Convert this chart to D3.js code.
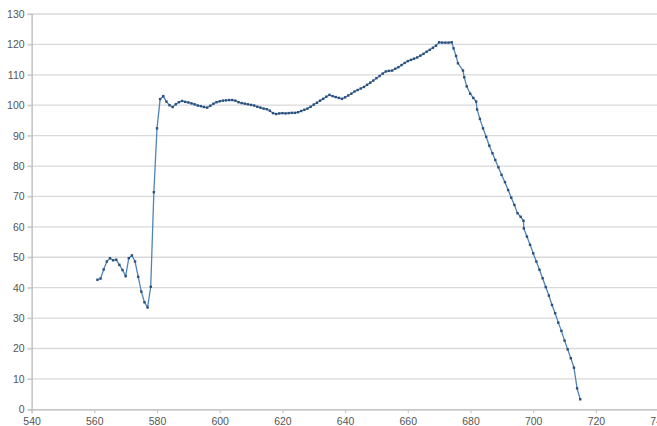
<!DOCTYPE html>
<html>
<head>
<meta charset="utf-8">
<script src="https://cdn.jsdelivr.net/npm/d3@7"></script>
<style>
  html, body { margin: 0; padding: 0; background: #fff; overflow: hidden; }
  text { font-family: "Liberation Sans", Arial, sans-serif; }
</style>
</head>
<body>
<div id="chart"></div>
<script>
// Values
const xValues = [
  561, 562, 563, 564, 565, 566, 567, 568, 569, 570,
  571, 572, 573, 574, 575, 576, 577, 578, 579, 580,
  581, 582, 583, 584, 585, 586, 587, 588, 589, 590,
  591, 592, 593, 594, 595, 596, 597, 598, 599, 600,
  601, 602, 603, 604, 605, 606, 607, 608, 609, 610,
  611, 612, 613, 614, 615, 616, 617, 618, 619, 620,
  621, 622, 623, 624, 625, 626, 627, 628, 629, 630,
  631, 632, 633, 634, 635, 636, 637, 638, 639, 640,
  641, 642, 643, 644, 645, 646, 647, 648, 649, 650,
  651, 652, 653, 654, 655, 656, 657, 658, 659, 660,
  661, 662, 663, 664, 665, 666, 667, 668, 669, 670,
  671, 672, 673, 674, 674.6, 675.4, 676, 677.6, 678, 678.8,
  679.9, 680.9, 681.8, 682.1, 683, 684, 685, 686, 687, 687.9,
  688.9, 689.9, 691, 692, 693, 694, 695, 696, 696.9, 697,
  698, 699, 700, 701, 702, 703, 704, 705, 706, 707,
  708, 709, 710, 711, 712, 713, 714, 715
];
const yValues = [
  42.6, 43, 46, 48.6, 49.7, 49, 49.2, 47.5, 45.8, 43.8,
  49.7, 50.6, 48.6, 43.6, 38.7, 35.2, 33.5, 40.3, 71.4, 92.4,
  102, 103, 101.2, 100, 99.4, 100.3, 101, 101.4, 101.1, 100.9,
  100.6, 100.3, 99.9, 99.7, 99.4, 99.2, 99.8, 100.5, 101, 101.3,
  101.5, 101.6, 101.7, 101.7, 101.5, 101, 100.7, 100.5, 100.3, 100.1,
  99.9, 99.5, 99.2, 98.9, 98.7, 98.2, 97.4, 97.1, 97.3, 97.4,
  97.3, 97.4, 97.5, 97.5, 97.7, 98.1, 98.5, 98.9, 99.5, 100.2,
  100.8, 101.5, 102.1, 102.8, 103.4, 103, 102.7, 102.4, 102.1, 102.6,
  103.2, 103.8, 104.5, 105, 105.5, 106, 106.7, 107.4, 108.1, 108.9,
  109.6, 110.4, 111.1, 111.3, 111.4, 112, 112.5, 113.2, 113.9, 114.5,
  114.9, 115.3, 115.7, 116.3, 116.9, 117.6, 118.2, 118.9, 119.6, 120.7,
  120.6, 120.6, 120.6, 120.7, 118.7, 116.2, 113.8, 111.4, 109.2, 106.2,
  103.8, 102.4, 101.2, 98.6, 95.5, 92.4, 89.6, 86.7, 84.2, 82,
  79.6, 77.1, 74.7, 72.1, 69.6, 67.2, 64.5, 63.3, 62, 59.5,
  56.8, 54.1, 51.3, 48.6, 45.9, 43.1, 40.2, 37.4, 34.3, 31.6,
  28.5, 25.8, 22.6, 19.7, 16.8, 13.7, 6.9, 3.3
];
const xTicks = [540, 560, 580, 600, 620, 640, 660, 680, 700, 720, 740];
const yTicks = [0, 10, 20, 30, 40, 50, 60, 70, 80, 90, 100, 110, 120, 130];

const data = xValues.map((x, i) => ({ x: x, y: yValues[i] }));

const width = 657;
const height = 426;

const svg = d3.select('#chart')
  .append('svg')
  .attr('width', width)
  .attr('height', height);

const xScale = d3.scaleLinear()
  .domain([540, 740])
  .range([31.6, 658.6]);

const yScale = d3.scaleLinear()
  .domain([0, 130])
  .range([409.3, 14]);

// Horizontal grid lines
svg.append('g')
  .selectAll('line')
  .data(yTicks.filter(d => d > 0))
  .enter()
  .append('line')
  .attr('x1', xScale(540) - 4)
  .attr('x2', width)
  .attr('y1', d => yScale(d))
  .attr('y2', d => yScale(d))
  .attr('stroke', '#d9d9d9')
  .attr('stroke-width', 1.3);

// Y axis
const yAxis = svg.append('g')
  .attr('transform', `translate(${xScale(540)}, 0)`)
  .call(d3.axisLeft(yScale).tickValues(yTicks).tickSize(4).tickPadding(3));

// X axis
const xAxis = svg.append('g')
  .attr('transform', `translate(0, ${yScale(0)})`)
  .call(d3.axisBottom(xScale).tickValues(xTicks).tickSize(4).tickPadding(4));

[yAxis, xAxis].forEach(ax => {
  ax.select('.domain').attr('stroke', '#b3b3b3').attr('stroke-width', 1.2);
  ax.selectAll('.tick line').attr('stroke', '#c8c8c8').attr('stroke-width', 1.2);
  ax.selectAll('.tick text')
    .attr('fill', '#555')
    .attr('font-size', '10.5px')
    .attr('font-family', '"Liberation Sans", Arial, sans-serif');
});

// Series line
const line = d3.line()
  .x(d => xScale(d.x))
  .y(d => yScale(d.y));

svg.append('path')
  .datum(data)
  .attr('d', line)
  .attr('fill', 'none')
  .attr('stroke', '#4f84b8')
  .attr('stroke-width', 1.3);

// Small square markers
svg.selectAll('.pt')
  .data(data)
  .enter()
  .append('rect')
  .attr('class', 'pt')
  .attr('x', d => xScale(d.x) - 1.2)
  .attr('y', d => yScale(d.y) - 1.2)
  .attr('width', 2.4)
  .attr('height', 2.4)
  .attr('fill', '#2b4f78');
</script>
</body>
</html>
